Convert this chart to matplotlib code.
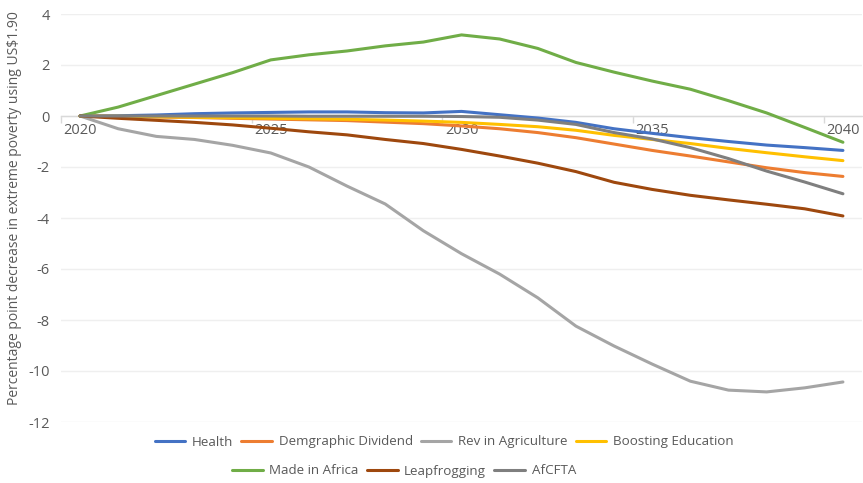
import matplotlib
matplotlib.use("Agg")
import matplotlib.pyplot as plt
from matplotlib.ticker import FixedLocator

plt.rcParams["font.family"] = ["Open Sans", "DejaVu Sans"]

years = list(range(2020, 2041))

health = [0, 0.01, 0.04, 0.09, 0.12, 0.14, 0.16, 0.16, 0.13, 0.12, 0.18,
          0.05, -0.08, -0.25, -0.5, -0.68, -0.85, -1.0, -1.14, -1.24, -1.35]
demographic = [0, -0.02, -0.04, -0.06, -0.09, -0.12, -0.15, -0.18, -0.24, -0.3, -0.39,
               -0.5, -0.65, -0.85, -1.1, -1.35, -1.57, -1.8, -2.03, -2.22, -2.37]
agriculture = [0, -0.5, -0.8, -0.92, -1.15, -1.45, -2.0, -2.75, -3.45, -4.5, -5.4,
               -6.2, -7.13, -8.24, -9.02, -9.73, -10.4, -10.75, -10.82, -10.66, -10.43]
education = [0, -0.01, -0.03, -0.05, -0.07, -0.09, -0.11, -0.13, -0.16, -0.2, -0.25,
             -0.33, -0.42, -0.56, -0.76, -0.92, -1.08, -1.27, -1.44, -1.6, -1.75]
made_in_africa = [0, 0.35, 0.8, 1.25, 1.7, 2.2, 2.4, 2.55, 2.75, 2.9, 3.18,
                  3.02, 2.65, 2.1, 1.72, 1.37, 1.05, 0.6, 0.12, -0.45, -1.03]
leapfrogging = [0, -0.09, -0.17, -0.25, -0.35, -0.48, -0.62, -0.74, -0.92, -1.08, -1.31,
                -1.57, -1.85, -2.18, -2.6, -2.88, -3.11, -3.29, -3.46, -3.64, -3.92]
afcfta = [0, 0, 0, 0, 0, 0, -0.01, -0.01, -0.01, -0.01, -0.02,
          -0.05, -0.16, -0.33, -0.65, -0.9, -1.24, -1.67, -2.16, -2.59, -3.05]

series_names = ["Health", "Demgraphic Dividend", "Rev in Agriculture", "Boosting Education",
                "Made in Africa", "Leapfrogging", "AfCFTA"]
series_values = [health, demographic, agriculture, education,
                 made_in_africa, leapfrogging, afcfta]
series_colors = ["#4472C4", "#ED7D31", "#A5A5A5", "#FFC000",
                 "#70AD47", "#9E480E", "#7F7F7F"]

x_labels = [2020, 2025, 2030, 2035, 2040]
y_ticks = [4, 2, 0, -2, -4, -6, -8, -10, -12]

text_color = "#595959"

fig = plt.figure(figsize=(8.63, 4.83), dpi=100)
ax = fig.add_axes([61 / 863, 1 - 422 / 483, 801 / 863, 408 / 483])

handles = []
for name, vals, col in zip(series_names, series_values, series_colors):
    h, = ax.plot(years, vals, color=col, lw=2.2, label=name,
                 solid_capstyle="round", solid_joinstyle="round", zorder=3)
    handles.append(h)

ax.set_xlim(2019.5, 2040.5)
ax.set_ylim(-12, 4)

ax.set_yticks(y_ticks)
ax.set_yticklabels([str(v) for v in y_ticks])
ax.yaxis.grid(True, color="#EFEFEF", lw=1.0, zorder=0)
ax.set_axisbelow(True)

ax.xaxis.set_major_locator(FixedLocator(x_labels))
ax.set_xticklabels([str(v) for v in x_labels])
ax.xaxis.set_minor_locator(FixedLocator([y - 0.5 for y in x_labels]))
ax.tick_params(axis="x", which="major", length=0, pad=5, labelsize=10.5,
               labelcolor=text_color)
ax.tick_params(axis="x", which="minor", length=5, width=1, color="#D9D9D9",
               direction="out")
ax.tick_params(axis="y", length=0, pad=8, labelsize=10.5, labelcolor=text_color)

for side in ("top", "right", "left"):
    ax.spines[side].set_visible(False)
ax.spines["bottom"].set_position(("data", 0))
ax.spines["bottom"].set_color("#D9D9D9")
ax.spines["bottom"].set_linewidth(1)
ax.spines["bottom"].set_zorder(1)

fig.text(15 / 863, 1 - 208 / 483,
         "Percentage point decrease in extreme poverty using US$1.90",
         rotation=90, ha="center", va="center", fontsize=10, color=text_color)

leg_kw = dict(frameon=False, fontsize=9.6, handlelength=2.3, handletextpad=0.5,
              columnspacing=0.6, borderaxespad=0, labelcolor=text_color)
leg1 = fig.legend(handles[:4], series_names[:4], ncol=4, loc="center",
                  bbox_to_anchor=(444 / 863, 1 - 442 / 483), **leg_kw)
leg2 = fig.legend(handles[4:], series_names[4:], ncol=3, loc="center",
                  bbox_to_anchor=(404 / 863, 1 - 471 / 483), **leg_kw)

fig.savefig("out.png", dpi=100)
